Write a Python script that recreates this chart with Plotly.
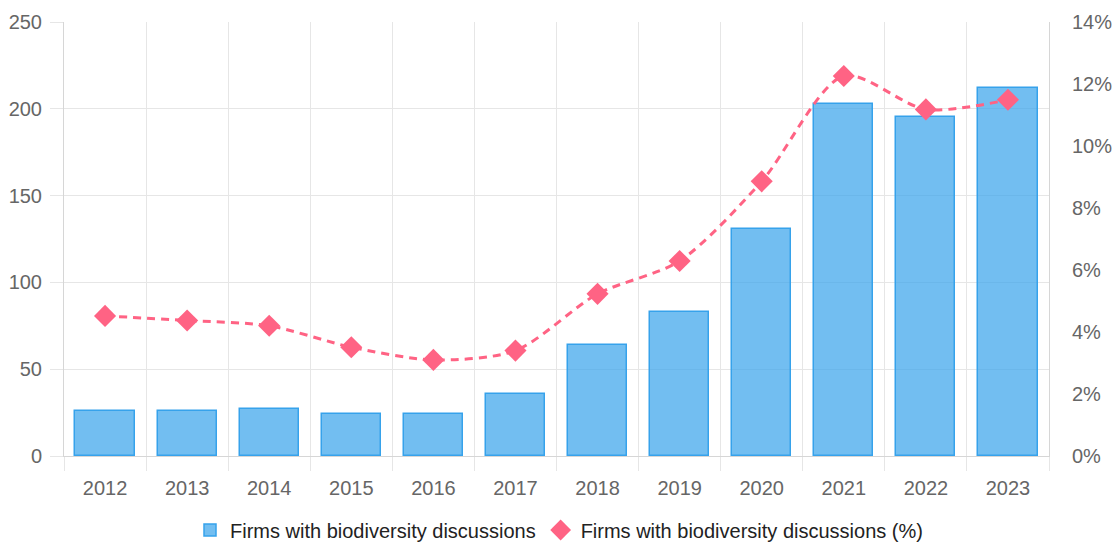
import plotly.graph_objects as go

# Yearly counts of firms discussing biodiversity and their share of all firms
years = [2012, 2013, 2014, 2015, 2016, 2017, 2018, 2019, 2020, 2021, 2022, 2023]
firm_counts = [26, 26, 27, 24, 24, 36, 64, 83, 131, 203, 195, 212]
firm_share_pct = [4.52, 4.37, 4.20, 3.51, 3.10, 3.40, 5.23, 6.29, 8.86, 12.26, 11.18, 11.49]
year_labels = [str(y) for y in years]

count_name = "Firms with biodiversity discussions"
share_name = "Firms with biodiversity discussions (%)"

BLUE = "#36A2EB"
BLUE_FILL = "rgba(54,162,235,0.7)"
PINK = "#FF6384"
GRID = "#e6e6e6"
AXIS = "#d6d6d6"
TICK_FONT = dict(family="Liberation Sans, Arial, sans-serif", size=20, color="#666666")

# category boundaries for the vertical grid lines
boundaries = [y - 0.5 for y in years] + [years[-1] + 0.5]

fig = go.Figure()

fig.add_trace(go.Bar(
    x=years,
    y=firm_counts,
    name=count_name,
    width=0.72,
    marker=dict(color=BLUE_FILL, line=dict(color=BLUE, width=1.5)),
    yaxis="y",
))

# dashed smoothed line for the share (legend shows only the diamond marker)
fig.add_trace(go.Scatter(
    x=years,
    y=firm_share_pct,
    name=share_name,
    mode="lines",
    line=dict(color=PINK, width=3, dash="8px,6px", shape="spline", smoothing=0.8),
    showlegend=False,
    hoverinfo="skip",
    yaxis="y2",
))

fig.add_trace(go.Scatter(
    x=years,
    y=firm_share_pct,
    name=share_name,
    mode="markers",
    marker=dict(symbol="diamond", size=17, color=PINK),
    yaxis="y2",
))

fig.update_layout(
    width=1118,
    height=549,
    margin=dict(l=64, r=69, t=22, b=93, autoexpand=False),
    paper_bgcolor="white",
    plot_bgcolor="white",
    bargap=0,
    font=TICK_FONT,
    xaxis=dict(
        range=[years[0] - 0.5, years[-1] + 0.5],
        tickmode="array",
        tickvals=years,
        ticktext=year_labels,
        ticks="",
        showgrid=False,
        zeroline=False,
        showline=True,
        linecolor=AXIS,
        linewidth=1,
        automargin=False,
        ticklabelstandoff=14,
        tickfont=TICK_FONT,
        minor=dict(
            tickmode="array",
            tickvals=boundaries,
            showgrid=True,
            gridcolor=GRID,
            gridwidth=1,
            ticks="outside",
            ticklen=14,
            tickcolor=GRID,
            tickwidth=1,
        ),
    ),
    yaxis=dict(
        range=[0, 250],
        tickmode="linear",
        tick0=0,
        dtick=50,
        showgrid=True,
        gridcolor=GRID,
        gridwidth=1,
        zeroline=False,
        showline=True,
        linecolor=AXIS,
        ticks="outside",
        ticklen=13,
        tickcolor=GRID,
        automargin=False,
        tickfont=TICK_FONT,
        ticklabelstandoff=4,
    ),
    yaxis2=dict(
        range=[0, 14],
        tickmode="linear",
        tick0=0,
        dtick=2,
        ticksuffix="%",
        overlaying="y",
        side="right",
        showgrid=False,
        zeroline=False,
        showline=True,
        linecolor=AXIS,
        ticks="",
        automargin=False,
        tickfont=TICK_FONT,
        ticklabelstandoff=18,
    ),
    legend=dict(
        orientation="h",
        xref="container",
        yref="container",
        x=0.5,
        xanchor="center",
        y=1 - 530 / 549,
        yanchor="middle",
        font=dict(family="Liberation Sans, Arial, sans-serif", size=20, color="#222222"),
        itemsizing="trace",
    ),
    showlegend=True,
)

fig.write_html("out.html")
